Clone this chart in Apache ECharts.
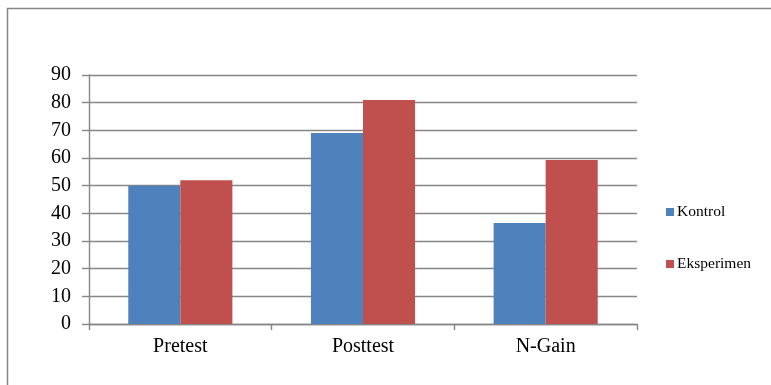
<!DOCTYPE html>
<html>
<head>
<meta charset="utf-8">
<script src="https://cdn.jsdelivr.net/npm/echarts@6/dist/echarts.min.js"></script>
<style>
  html, body { margin: 0; padding: 0; background: #ffffff; }
  #chart { width: 771px; height: 385px; }
</style>
</head>
<body>
<div id="chart"></div>
<script>
// Test stages on the x axis
const categories = ['Pretest', 'Posttest', 'N-Gain'];
// Mean scores of each class
const kontrol = [50, 69, 36.5];
const eksperimen = [52, 81, 59.3];
// Value axis range
const yMin = 0;
const yMax = 90;
const yStep = 10;

const serif = '"Liberation Serif", "Times New Roman", serif';
const gray = '#868686';

const chart = echarts.init(document.getElementById('chart'), null, { renderer: 'canvas' });

chart.setOption({
  backgroundColor: '#ffffff',
  animation: false,
  graphic: [{
    type: 'rect',
    shape: { x: 7.5, y: 8.5, width: 800, height: 400 },
    style: { fill: 'none', stroke: gray, lineWidth: 1.5 },
    silent: true
  }],
  legend: {
    orient: 'vertical',
    left: 661,
    top: 199,
    itemWidth: 8,
    itemHeight: 8,
    itemGap: 36,
    icon: 'rect',
    textStyle: {
      fontFamily: serif,
      fontSize: 15.5,
      color: '#000000',
      lineHeight: 16,
      padding: [0, 0, 0, -2]
    },
    data: ['Kontrol', 'Eksperimen']
  },
  grid: {
    left: 89,
    right: 134,
    top: 75,
    bottom: 61,
    containLabel: false
  },
  xAxis: {
    type: 'category',
    data: categories,
    axisLine: { show: true, lineStyle: { color: gray, width: 1.4 } },
    axisTick: { show: true, length: 6, alignWithLabel: false, lineStyle: { color: gray, width: 1.4 } },
    axisLabel: { fontFamily: serif, fontSize: 20, color: '#000000', margin: 13 },
    splitLine: { show: false }
  },
  yAxis: {
    type: 'value',
    min: yMin,
    max: yMax,
    interval: yStep,
    axisLine: { show: true, lineStyle: { color: gray, width: 1.4 } },
    axisTick: { show: true, inside: false, length: 7, lineStyle: { color: gray, width: 1.4 } },
    axisLabel: { fontFamily: serif, fontSize: 20, color: '#000000', margin: 18 },
    splitLine: { show: true, lineStyle: { color: gray, width: 1.4 } }
  },
  series: [
    {
      name: 'Kontrol',
      type: 'bar',
      data: kontrol,
      barGap: '0%',
      barCategoryGap: '43%',
      itemStyle: { color: '#4F81BD' }
    },
    {
      name: 'Eksperimen',
      type: 'bar',
      data: eksperimen,
      barGap: '0%',
      barCategoryGap: '43%',
      itemStyle: { color: '#C0504D' }
    }
  ]
});
</script>
</body>
</html>
